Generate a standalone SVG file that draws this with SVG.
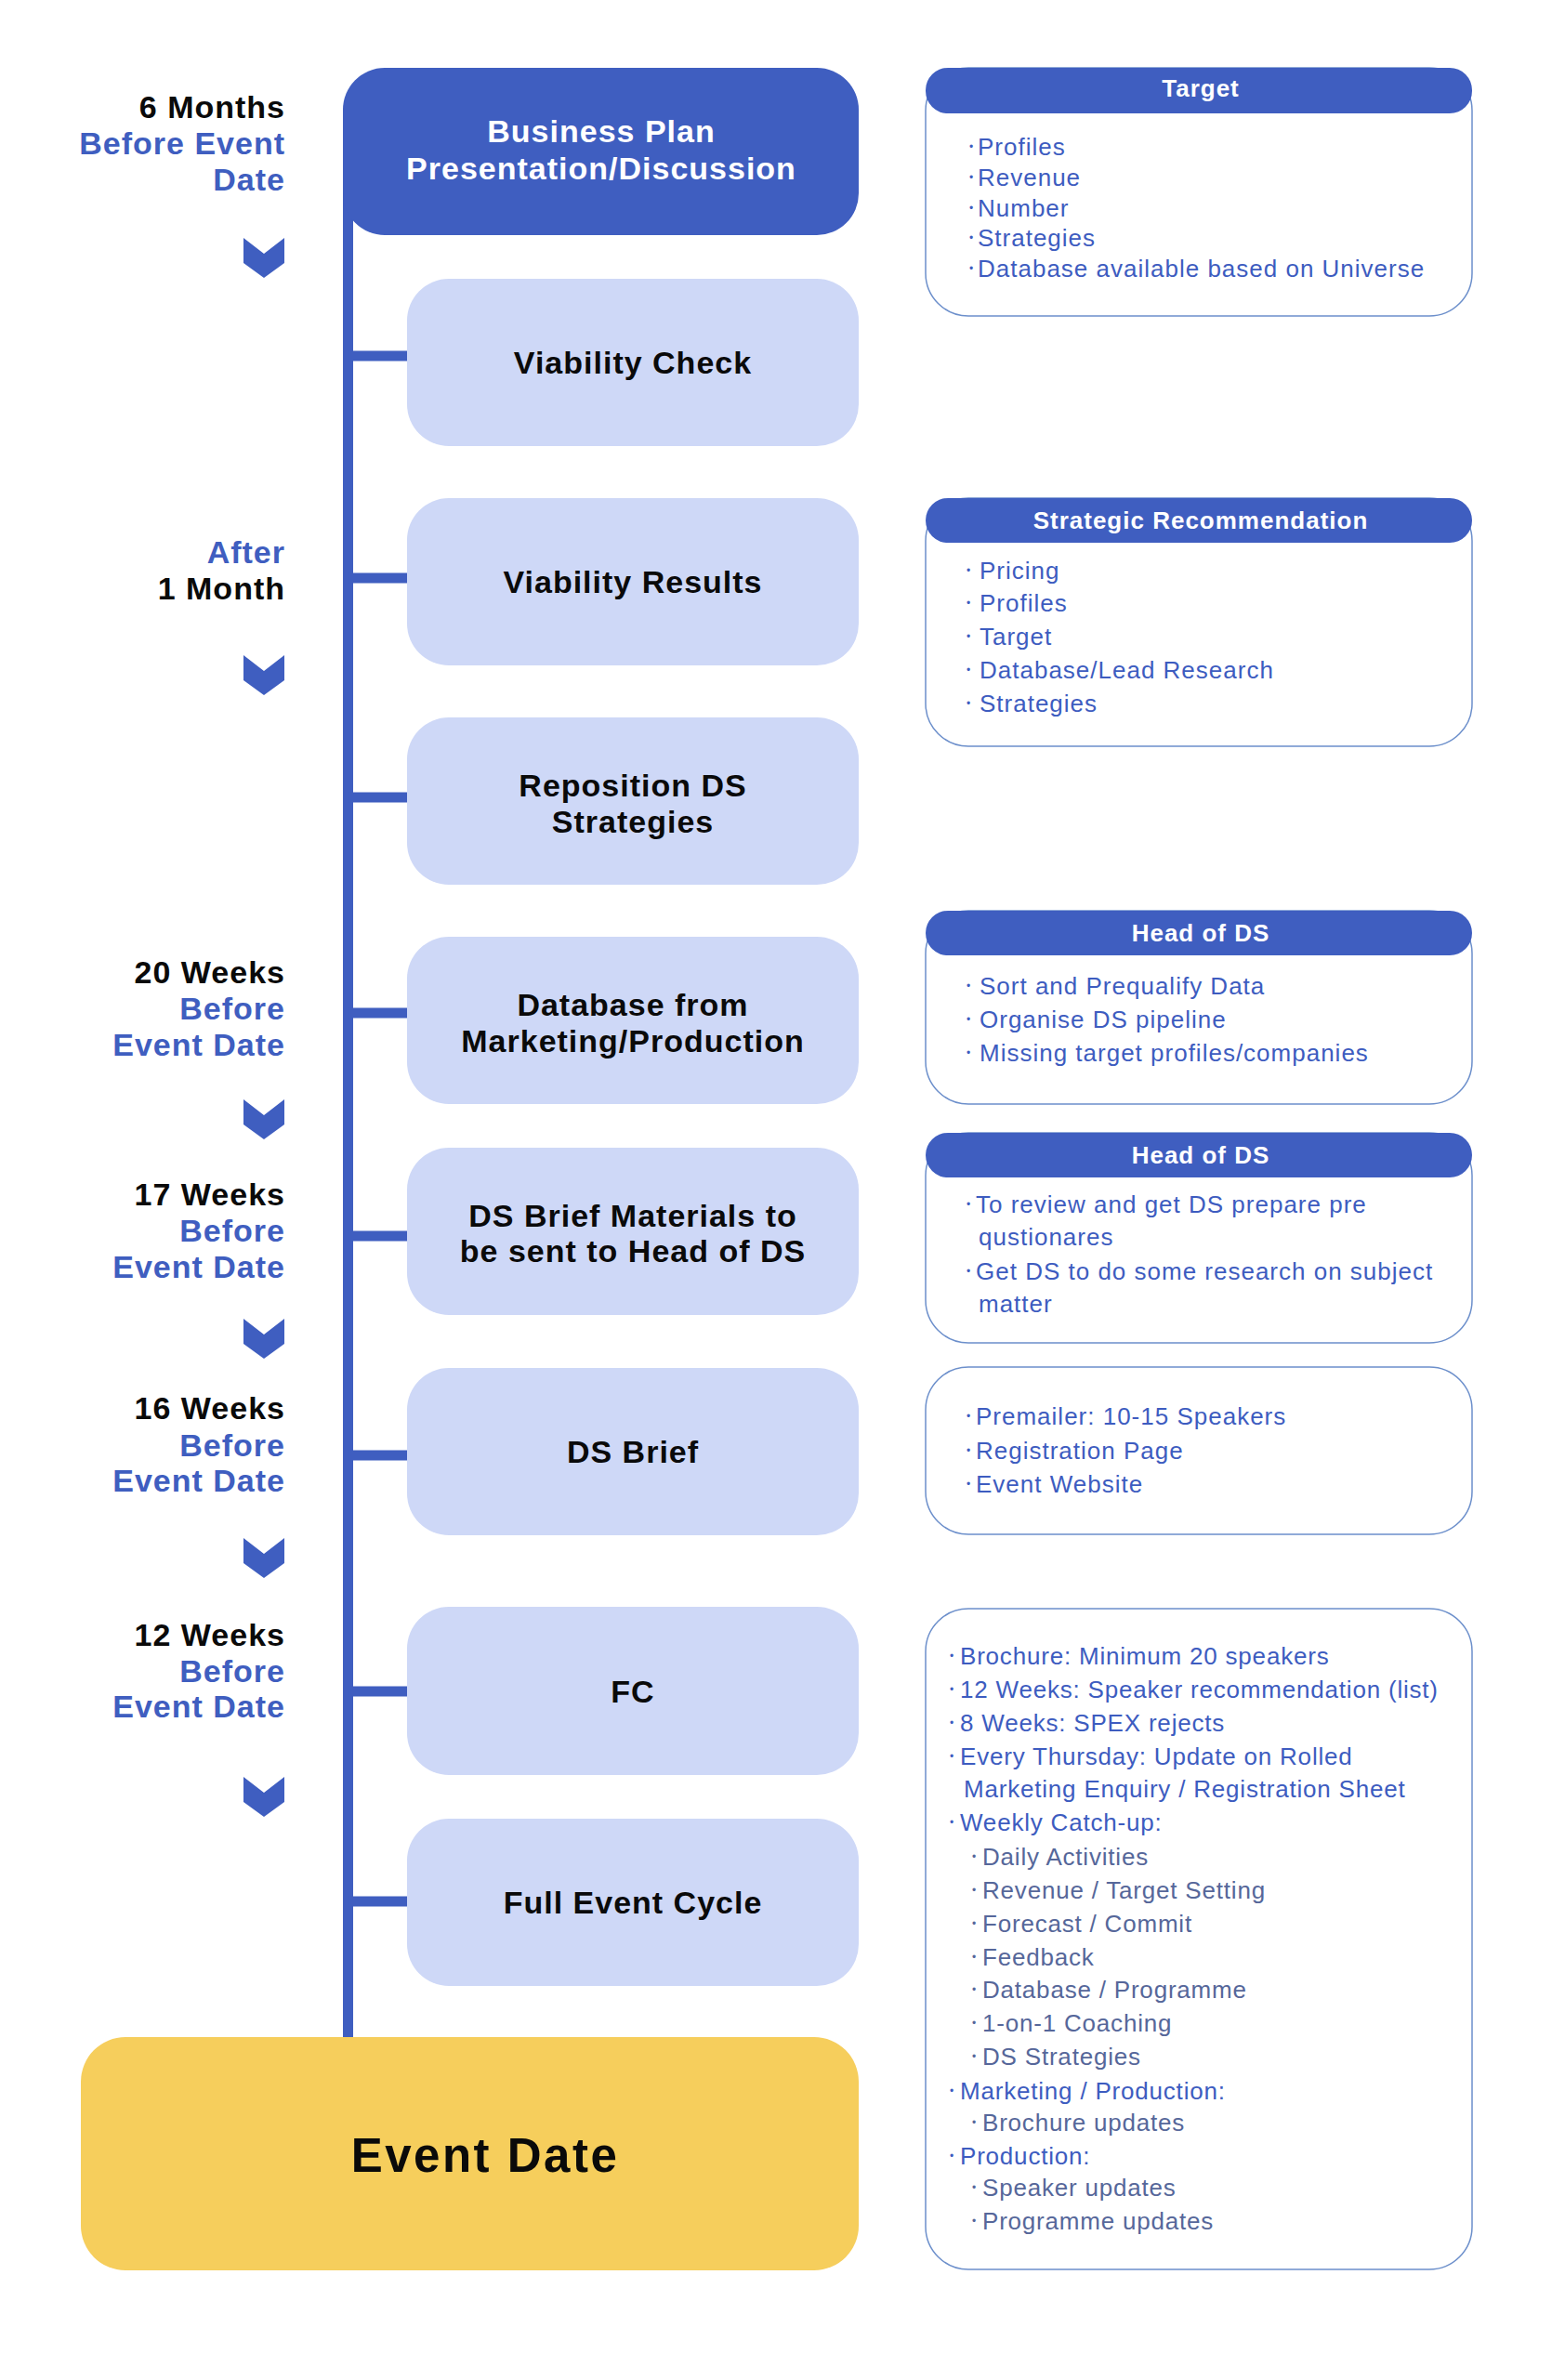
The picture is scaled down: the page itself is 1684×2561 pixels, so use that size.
<svg xmlns="http://www.w3.org/2000/svg" width="1684" height="2561" viewBox="0 0 1684 2561">
<style>
text{font-family:"Liberation Sans",Arial,sans-serif}
.node{fill:#CED8F7}
.dark{fill:#3F5EC0}
.ev{fill:#F6CE5C}
.nt{font-size:34px;font-weight:bold;fill:#0a0a0a;text-anchor:middle;letter-spacing:1px}
.nw{font-size:34px;font-weight:bold;fill:#ffffff;text-anchor:middle;letter-spacing:1px}
.lb{font-size:34px;font-weight:bold;fill:#0a0a0a;text-anchor:end;letter-spacing:1px}
.lbb{font-size:34px;font-weight:bold;fill:#3F5EC0;text-anchor:end;letter-spacing:1px}
.panel{fill:#ffffff;stroke:#6C8FCB;stroke-width:1.5}
.hdr{fill:#3F5EC0}
.ht{font-size:26px;font-weight:bold;fill:#ffffff;text-anchor:middle;letter-spacing:1px}
.it{font-size:26px;fill:#3D5CC0;letter-spacing:1px}
.it2{font-size:26px;fill:#3D5CC0;letter-spacing:0.8px}
.sub{font-size:26px;fill:#56679A;letter-spacing:0.8px}
.bl{font-size:12px;letter-spacing:0}
.chev{fill:#3F5EC0}
.conn{stroke:#3F5EC0;stroke-width:11;fill:none}
</style>

<g id="connectors">
  <line class="conn" x1="374.5" y1="180" x2="374.5" y2="2194"/>
  <line class="conn" x1="374.5" y1="383" x2="440" y2="383"/>
  <line class="conn" x1="374.5" y1="622" x2="440" y2="622"/>
  <line class="conn" x1="374.5" y1="858" x2="440" y2="858"/>
  <line class="conn" x1="374.5" y1="1090" x2="440" y2="1090"/>
  <line class="conn" x1="374.5" y1="1330" x2="440" y2="1330"/>
  <line class="conn" x1="374.5" y1="1566" x2="440" y2="1566"/>
  <line class="conn" x1="374.5" y1="1820" x2="440" y2="1820"/>
  <line class="conn" x1="374.5" y1="2046" x2="440" y2="2046"/>
</g>

<g id="chevrons">
  <polygon class="chev" points="262,256 284,273 306,256 306,283 284,299 262,283"/>
  <polygon class="chev" points="262,705 284,722 306,705 306,732 284,748 262,732"/>
  <polygon class="chev" points="262,1183 284,1200 306,1183 306,1210 284,1226 262,1210"/>
  <polygon class="chev" points="262,1419 284,1436 306,1419 306,1446 284,1462 262,1446"/>
  <polygon class="chev" points="262,1655 284,1672 306,1655 306,1682 284,1698 262,1682"/>
  <polygon class="chev" points="262,1912 284,1929 306,1912 306,1939 284,1955 262,1939"/>
</g>

<g id="time-labels">
  <text class="lb" x="307" y="127">6 Months</text>
  <text class="lbb" x="307" y="166">Before Event</text>
  <text class="lbb" x="307" y="205">Date</text>
  <text class="lbb" x="307" y="606">After</text>
  <text class="lb" x="307" y="645">1 Month</text>
  <text class="lb" x="307" y="1058">20 Weeks</text>
  <text class="lbb" x="307" y="1097">Before</text>
  <text class="lbb" x="307" y="1136">Event Date</text>
  <text class="lb" x="307" y="1297">17 Weeks</text>
  <text class="lbb" x="307" y="1336">Before</text>
  <text class="lbb" x="307" y="1375">Event Date</text>
  <text class="lb" x="307" y="1527">16 Weeks</text>
  <text class="lbb" x="307" y="1567">Before</text>
  <text class="lbb" x="307" y="1605">Event Date</text>
  <text class="lb" x="307" y="1771">12 Weeks</text>
  <text class="lbb" x="307" y="1810">Before</text>
  <text class="lbb" x="307" y="1848">Event Date</text>
</g>

<g id="node-business-plan">
  <rect class="dark" x="369" y="73" width="555" height="180" rx="45"/>
  <text class="nw" x="647" y="153">Business Plan</text>
  <text class="nw" x="647" y="193">Presentation/Discussion</text>
</g>
<g id="node-viability-check">
  <rect class="node" x="438" y="300" width="486" height="180" rx="45"/>
  <text class="nt" x="681" y="402">Viability Check</text>
</g>
<g id="node-viability-results">
  <rect class="node" x="438" y="536" width="486" height="180" rx="45"/>
  <text class="nt" x="681" y="638">Viability Results</text>
</g>
<g id="node-reposition">
  <rect class="node" x="438" y="772" width="486" height="180" rx="45"/>
  <text class="nt" x="681" y="857">Reposition DS</text>
  <text class="nt" x="681" y="896">Strategies</text>
</g>
<g id="node-database">
  <rect class="node" x="438" y="1008" width="486" height="180" rx="45"/>
  <text class="nt" x="681" y="1093">Database from</text>
  <text class="nt" x="681" y="1132">Marketing/Production</text>
</g>
<g id="node-ds-brief-materials">
  <rect class="node" x="438" y="1235" width="486" height="180" rx="45"/>
  <text class="nt" x="681" y="1320">DS Brief Materials to</text>
  <text class="nt" x="681" y="1358">be sent to Head of DS</text>
</g>
<g id="node-ds-brief">
  <rect class="node" x="438" y="1472" width="486" height="180" rx="45"/>
  <text class="nt" x="681" y="1574">DS Brief</text>
</g>
<g id="node-fc">
  <rect class="node" x="438" y="1729" width="486" height="181" rx="45"/>
  <text class="nt" x="681" y="1832">FC</text>
</g>
<g id="node-full-event-cycle">
  <rect class="node" x="438" y="1957" width="486" height="180" rx="45"/>
  <text class="nt" x="681" y="2059">Full Event Cycle</text>
</g>
<g id="node-event-date">
  <rect class="ev" x="87" y="2192" width="837" height="251" rx="48"/>
  <text x="522" y="2337" style="font-size:51px;font-weight:bold;fill:#0a0a0a;text-anchor:middle;letter-spacing:2.5px">Event Date</text>
</g>

<g id="panel-target">
  <rect class="panel" x="996" y="73" width="588" height="267" rx="46"/>
  <rect class="hdr" x="996" y="73" width="588" height="49" rx="24"/>
  <text class="ht" x="1292" y="104">Target</text>
  <text class="it"><tspan class="bl" x="1043" y="162">•</tspan><tspan x="1052" y="167">Profiles</tspan></text>
  <text class="it"><tspan class="bl" x="1043" y="195">•</tspan><tspan x="1052" y="200">Revenue</tspan></text>
  <text class="it"><tspan class="bl" x="1043" y="228">•</tspan><tspan x="1052" y="233">Number</tspan></text>
  <text class="it"><tspan class="bl" x="1043" y="260">•</tspan><tspan x="1052" y="265">Strategies</tspan></text>
  <text class="it"><tspan class="bl" x="1043" y="293">•</tspan><tspan x="1052" y="298">Database available based on Universe</tspan></text>
</g>

<g id="panel-strategic">
  <rect class="panel" x="996" y="536" width="588" height="267" rx="46"/>
  <rect class="hdr" x="996" y="536" width="588" height="48" rx="24"/>
  <text class="ht" x="1292" y="569">Strategic Recommendation</text>
  <text class="it"><tspan class="bl" x="1040" y="618">•</tspan><tspan x="1054" y="623">Pricing</tspan></text>
  <text class="it"><tspan class="bl" x="1040" y="653">•</tspan><tspan x="1054" y="658">Profiles</tspan></text>
  <text class="it"><tspan class="bl" x="1040" y="689">•</tspan><tspan x="1054" y="694">Target</tspan></text>
  <text class="it"><tspan class="bl" x="1040" y="725">•</tspan><tspan x="1054" y="730">Database/Lead Research</tspan></text>
  <text class="it"><tspan class="bl" x="1040" y="761">•</tspan><tspan x="1054" y="766">Strategies</tspan></text>
</g>

<g id="panel-head-ds-1">
  <rect class="panel" x="996" y="980" width="588" height="208" rx="46"/>
  <rect class="hdr" x="996" y="980" width="588" height="48" rx="24"/>
  <text class="ht" x="1292" y="1013">Head of DS</text>
  <text class="it"><tspan class="bl" x="1040" y="1065">•</tspan><tspan x="1054" y="1070">Sort and Prequalify Data</tspan></text>
  <text class="it"><tspan class="bl" x="1040" y="1101">•</tspan><tspan x="1054" y="1106">Organise DS pipeline</tspan></text>
  <text class="it"><tspan class="bl" x="1040" y="1137">•</tspan><tspan x="1054" y="1142">Missing target profiles/companies</tspan></text>
</g>

<g id="panel-head-ds-2">
  <rect class="panel" x="996" y="1219" width="588" height="226" rx="46"/>
  <rect class="hdr" x="996" y="1219" width="588" height="48" rx="24"/>
  <text class="ht" x="1292" y="1252">Head of DS</text>
  <text class="it"><tspan class="bl" x="1040" y="1300">•</tspan><tspan x="1050" y="1305">To review and get DS prepare pre</tspan></text>
  <text class="it" x="1053" y="1340">qustionares</text>
  <text class="it"><tspan class="bl" x="1040" y="1372">•</tspan><tspan x="1050" y="1377">Get DS to do some research on subject</tspan></text>
  <text class="it" x="1053" y="1412">matter</text>
</g>

<g id="panel-ds-brief">
  <rect class="panel" x="996" y="1471" width="588" height="180" rx="46"/>
  <text class="it"><tspan class="bl" x="1040" y="1528">•</tspan><tspan x="1050" y="1533">Premailer: 10-15 Speakers</tspan></text>
  <text class="it"><tspan class="bl" x="1040" y="1565">•</tspan><tspan x="1050" y="1570">Registration Page</tspan></text>
  <text class="it"><tspan class="bl" x="1040" y="1601">•</tspan><tspan x="1050" y="1606">Event Website</tspan></text>
</g>

<g id="panel-fc">
  <rect class="panel" x="996" y="1731" width="588" height="711" rx="46"/>
  <text class="it2"><tspan class="bl" x="1022" y="1786">•</tspan><tspan x="1033" y="1791">Brochure: Minimum 20 speakers</tspan></text>
  <text class="it2"><tspan class="bl" x="1022" y="1822">•</tspan><tspan x="1033" y="1827">12 Weeks: Speaker recommendation (list)</tspan></text>
  <text class="it2"><tspan class="bl" x="1022" y="1858">•</tspan><tspan x="1033" y="1863">8 Weeks: SPEX rejects</tspan></text>
  <text class="it2"><tspan class="bl" x="1022" y="1894">•</tspan><tspan x="1033" y="1899">Every Thursday: Update on Rolled</tspan></text>
  <text class="it2" x="1037" y="1934">Marketing Enquiry / Registration Sheet</text>
  <text class="it2"><tspan class="bl" x="1022" y="1965">•</tspan><tspan x="1033" y="1970">Weekly Catch-up:</tspan></text>
  <text class="sub"><tspan class="bl" x="1046" y="2002">•</tspan><tspan x="1057" y="2007">Daily Activities</tspan></text>
  <text class="sub"><tspan class="bl" x="1046" y="2038">•</tspan><tspan x="1057" y="2043">Revenue / Target Setting</tspan></text>
  <text class="sub"><tspan class="bl" x="1046" y="2074">•</tspan><tspan x="1057" y="2079">Forecast / Commit</tspan></text>
  <text class="sub"><tspan class="bl" x="1046" y="2110">•</tspan><tspan x="1057" y="2115">Feedback</tspan></text>
  <text class="sub"><tspan class="bl" x="1046" y="2145">•</tspan><tspan x="1057" y="2150">Database / Programme</tspan></text>
  <text class="sub"><tspan class="bl" x="1046" y="2181">•</tspan><tspan x="1057" y="2186">1-on-1 Coaching</tspan></text>
  <text class="sub"><tspan class="bl" x="1046" y="2217">•</tspan><tspan x="1057" y="2222">DS Strategies</tspan></text>
  <text class="it2"><tspan class="bl" x="1022" y="2254">•</tspan><tspan x="1033" y="2259">Marketing / Production:</tspan></text>
  <text class="sub"><tspan class="bl" x="1046" y="2288">•</tspan><tspan x="1057" y="2293">Brochure updates</tspan></text>
  <text class="it2"><tspan class="bl" x="1022" y="2324">•</tspan><tspan x="1033" y="2329">Production:</tspan></text>
  <text class="sub"><tspan class="bl" x="1046" y="2358">•</tspan><tspan x="1057" y="2363">Speaker updates</tspan></text>
  <text class="sub"><tspan class="bl" x="1046" y="2394">•</tspan><tspan x="1057" y="2399">Programme updates</tspan></text>
</g>
</svg>
